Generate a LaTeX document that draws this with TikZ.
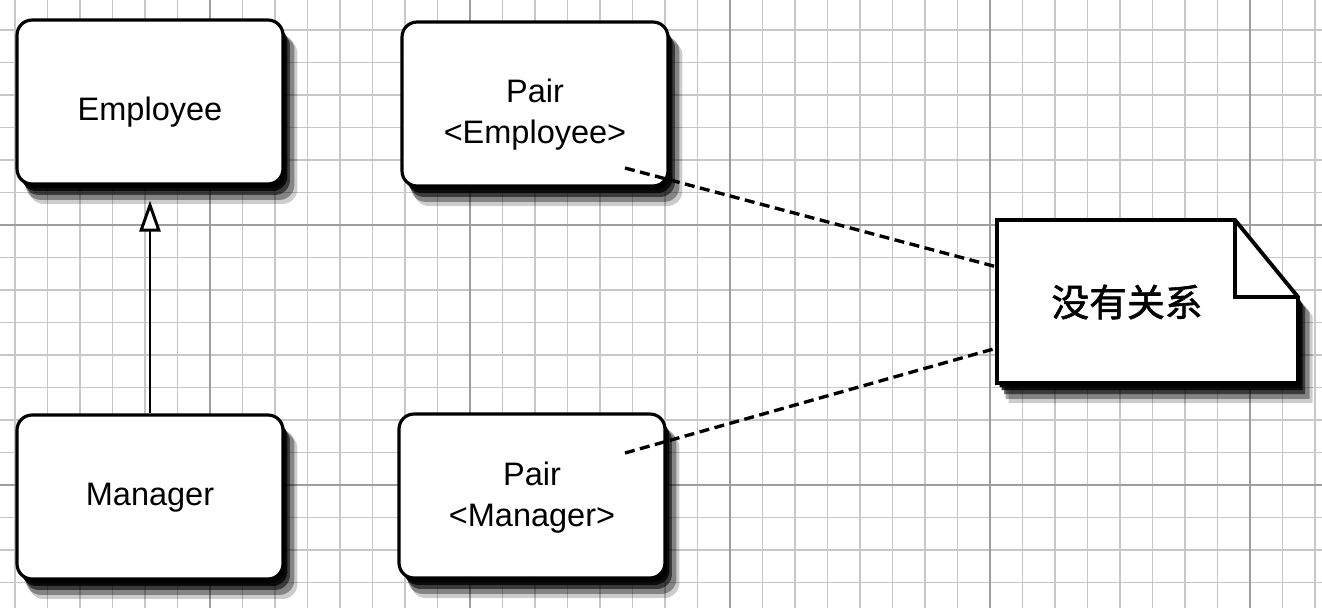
\documentclass[tikz,border=0pt]{standalone}
\usepackage{fontspec}
\setmainfont{Liberation Sans}
\newfontfamily\cjk[FakeBold=1.5]{Noto Sans CJK SC}
\usepackage{tikz}
\usetikzlibrary{arrows.meta,calc,positioning,shadows}

%text lowered a little in the box
\newcommand{\boxtext}[2][0cm]{\raisebox{#1}[\height][\depth]{\begin{tabular}{@{}c@{}}#2\end{tabular}}}

\begin{document}
\begin{tikzpicture}[x=0.02cm,y=-0.02cm]

\tikzset{gridline/.style={line width=0.6pt, color=black!22},
majorline/.style={line width=0.9pt, color=black!38},
%blurry shadow from some drop shadows
boxshadow/.style={drop shadow={shadow xshift=0.26cm, shadow yshift=-0.38cm, shadow scale=1.01, fill=black, opacity=0.2},
  drop shadow={shadow xshift=0.2cm, shadow yshift=-0.3cm, shadow scale=1.01, fill=black, opacity=0.35},
  drop shadow={shadow xshift=0.14cm, shadow yshift=-0.22cm, fill=black, opacity=0.55},
  drop shadow={shadow xshift=0.09cm, shadow yshift=-0.14cm, fill=black, opacity=0.8},
  drop shadow={shadow xshift=0.05cm, shadow yshift=-0.08cm, fill=black, opacity=1}},
classbox/.style={draw, line width=1.8pt, rounded corners=0.3cm, fill=white, boxshadow,
  minimum width=5.32cm, minimum height=3.28cm, align=center,
  font=\fontsize{18.5}{23}\selectfont},
notebox/.style={draw, line width=2.2pt, fill=white, boxshadow},
relline/.style={line width=1.9pt, dash pattern=on 0.2cm off 0.11cm},
inherit/.style={line width=1.7pt, shorten >=0.3cm,
  -{Triangle[open, fill=white, length=0.62cm, width=0.42cm]}}}

\useasboundingbox (0,0) rectangle (1322,608);
\fill[white] (0,0) rectangle (1322,608);

%the paper grid
\foreach \k in {0,...,40}
    \draw[gridline] ({15+32.5*\k},0) -- ({15+32.5*\k},608);
\foreach \k in {1,...,18}
    \draw[gridline] (0,{-2.5+32.5*\k}) -- (1322,{-2.5+32.5*\k});
\foreach \x in {210,470,730,990,1250}
    \draw[majorline] (\x,0) -- (\x,608);
\foreach \y in {225,485}
    \draw[majorline] (0,\y) -- (1322,\y);

%classes
\node[classbox] (emp) at (150,102) {\boxtext[-0.2cm]{Employee}};
\node[classbox] (mgr) at (150,497) {\boxtext{Manager}};
\node[classbox] (pairEmp) at (535,104) {\boxtext[-0.22cm]{Pair\\<Employee>}};
\node[classbox] (pairMgr) at (532,496) {\boxtext[-0.04cm]{Pair\\<Manager>}};

\draw[inherit] (mgr.north) -- (emp.south);

%the note
\draw[notebox] (997,220) -- (1235,220) -- (1298,297) -- (1298,383) -- (997,383) -- cycle;
\draw[line width=1.8pt] (1235,220) -- (1235,297) -- (1298,297);
\node[font=\cjk\fontsize{21.5}{26}\selectfont] (note) at (1127,302) {没有关系};

\coordinate (pe) at ($(pairEmp.center)+(90,64)$);
\coordinate (pm) at ($(pairMgr.center)+(93,-43)$);
\coordinate (n1) at (997,267);
\coordinate (n2) at (997,348);

\draw[relline] (pe) -- (n1);
\draw[relline] (pm) -- (n2);

\end{tikzpicture}
\end{document}
